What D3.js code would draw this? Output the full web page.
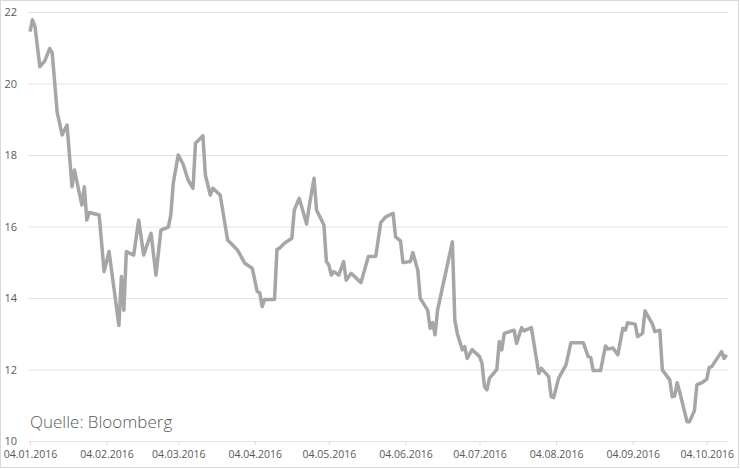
<!DOCTYPE html>
<html>
<head>
<meta charset="utf-8">
<script src="https://cdn.jsdelivr.net/npm/d3@7"></script>
<style>
	body { margin: 0; background: #fff; }
	text { font-family: "Open Sans", sans-serif; }
</style>
</head>
<body>
<div id="chart"></div>
<script>
var width = 740,
	height = 469;

// series (trading days, key points)
var dates = [
	"04.01.2016","05.01.2016","06.01.2016","08.01.2016","10.01.2016","12.01.2016","13.01.2016","15.01.2016","17.01.2016","19.01.2016",
	"21.01.2016","22.01.2016","25.01.2016","26.01.2016","27.01.2016","28.01.2016","01.02.2016","03.02.2016","05.02.2016","09.02.2016",
	"10.02.2016","11.02.2016","12.02.2016","15.02.2016","17.02.2016","19.02.2016","22.02.2016","24.02.2016","26.02.2016","29.02.2016",
	"01.03.2016","02.03.2016","04.03.2016","06.03.2016","08.03.2016","10.03.2016","11.03.2016","14.03.2016","15.03.2016","17.03.2016",
	"18.03.2016","21.03.2016","24.03.2016","28.03.2016","31.03.2016","03.04.2016","05.04.2016","06.04.2016","07.04.2016","08.04.2016",
	"12.04.2016","13.04.2016","14.04.2016","16.04.2016","19.04.2016","20.04.2016","22.04.2016","25.04.2016","26.04.2016","28.04.2016",
	"29.04.2016","02.05.2016","03.05.2016","04.05.2016","05.05.2016","06.05.2016","08.05.2016","10.05.2016","11.05.2016","13.05.2016",
	"17.05.2016","20.05.2016","23.05.2016","25.05.2016","27.05.2016","30.05.2016","31.05.2016","02.06.2016","03.06.2016","06.06.2016",
	"07.06.2016","09.06.2016","10.06.2016","13.06.2016","14.06.2016","15.06.2016","16.06.2016","17.06.2016","23.06.2016","24.06.2016",
	"25.06.2016","27.06.2016","28.06.2016","29.06.2016","01.07.2016","04.07.2016","05.07.2016","06.07.2016","07.07.2016","08.07.2016",
	"11.07.2016","12.07.2016","13.07.2016","14.07.2016","18.07.2016","19.07.2016","21.07.2016","22.07.2016","25.07.2016","28.07.2016",
	"29.07.2016","01.08.2016","02.08.2016","03.08.2016","05.08.2016","08.08.2016","10.08.2016","15.08.2016","17.08.2016","18.08.2016",
	"19.08.2016","22.08.2016","24.08.2016","25.08.2016","27.08.2016","29.08.2016","31.08.2016","01.09.2016","02.09.2016","05.09.2016",
	"06.09.2016","08.09.2016","09.09.2016","12.09.2016","13.09.2016","15.09.2016","16.09.2016","19.09.2016","20.09.2016","21.09.2016",
	"22.09.2016","23.09.2016","26.09.2016","27.09.2016","29.09.2016","30.09.2016","02.10.2016","04.10.2016","05.10.2016","06.10.2016",
	"10.10.2016","11.10.2016","12.10.2016"
];
var values = [
	21.45,21.78,21.6,20.47,20.63,20.98,20.85,19.2,18.56,18.84,
	17.11,17.58,16.6,17.11,16.18,16.39,16.32,14.74,15.3,13.23,
	14.6,13.66,15.3,15.2,16.18,15.2,15.81,14.64,15.9,15.98,
	16.32,17.21,18.0,17.74,17.3,17.07,18.33,18.54,17.44,16.88,
	17.07,16.88,15.62,15.34,14.97,14.83,14.18,14.15,13.76,13.96,
	13.96,15.36,15.39,15.53,15.67,16.46,16.79,16.07,16.55,17.35,
	16.46,16.04,15.02,14.92,14.64,14.74,14.64,15.02,14.5,14.69,
	14.43,15.16,15.17,16.11,16.27,16.37,15.71,15.6,14.99,15.02,
	15.27,14.78,13.99,13.66,13.15,13.31,12.97,13.66,15.57,13.38,
	13.01,12.55,12.64,12.31,12.56,12.36,12.17,11.52,11.43,11.75,
	12.0,12.78,12.55,13.01,13.1,12.73,13.17,13.08,13.17,11.89,
	12.03,11.8,11.24,11.21,11.75,12.13,12.75,12.75,12.36,12.34,
	11.97,11.97,12.66,12.57,12.6,12.41,13.15,13.1,13.31,13.27,
	12.92,13.01,13.64,13.27,13.06,13.1,11.99,11.71,11.24,11.26,
	11.63,11.38,10.54,10.54,10.85,11.57,11.63,11.73,12.06,12.08,
	12.5,12.31,12.41
];
var xTicks = ["04.01.2016","04.02.2016","04.03.2016","04.04.2016","04.05.2016",
	"04.06.2016","04.07.2016","04.08.2016","04.09.2016","04.10.2016"];
var yTicks = [10, 12, 14, 16, 18, 20, 22];
var source = "Quelle: Bloomberg";

var parse = d3.timeParse("%d.%m.%Y");
var fmt = d3.timeFormat("%d.%m.%Y");

var data = dates.map(function(d, i) { return { date: parse(d), value: values[i] }; });

var svg = d3.select("#chart")
	.append("svg")
	.attr("width", width)
	.attr("height", height);

// frame
svg.append("rect")
	.attr("x", 0.5).attr("y", 0.5)
	.attr("width", width - 2).attr("height", height - 2)
	.attr("fill", "#fff")
	.attr("stroke", "#d9d9d9");

var x = d3.scaleTime()
	.domain([parse("04.01.2016"), parse("13.10.2016")])
	.range([30, 729]);

var y = d3.scaleLinear()
	.domain([10, 22])
	.range([441, 12]);

// gridlines + y labels
var gy = svg.append("g")
	.attr("transform", "translate(28,0)")
	.call(d3.axisLeft(y).tickValues(yTicks).tickSize(-700).tickPadding(11));
gy.select(".domain").remove();
gy.selectAll("line").attr("stroke", "#e3e3e3");
gy.selectAll("text")
	.attr("fill", "#595959")
	.style("font-size", "11px");

// x axis
var gx = svg.append("g")
	.attr("transform", "translate(0,441)")
	.call(d3.axisBottom(x).tickValues(xTicks.map(parse)).tickFormat(fmt).tickSize(4).tickPadding(6));
gx.select(".domain").remove();
gx.selectAll("line").attr("stroke", "#d9d9d9");
gx.selectAll("text")
	.attr("fill", "#595959")
	.style("font-size", "10.5px");

// line
var line = d3.line()
	.x(function(d) { return x(d.date); })
	.y(function(d) { return y(d.value); });

svg.append("path")
	.datum(data)
	.attr("fill", "none")
	.attr("stroke", "#a6a6a6")
	.attr("stroke-width", 3.5)
	.attr("stroke-linejoin", "round")
	.attr("d", line);

// source
svg.append("text")
	.attr("x", 30)
	.attr("y", 428)
	.attr("fill", "#595959")
	.style("font-size", "17px")
	.style("font-weight", 300)
	.text(source);
</script>
</body>
</html>
